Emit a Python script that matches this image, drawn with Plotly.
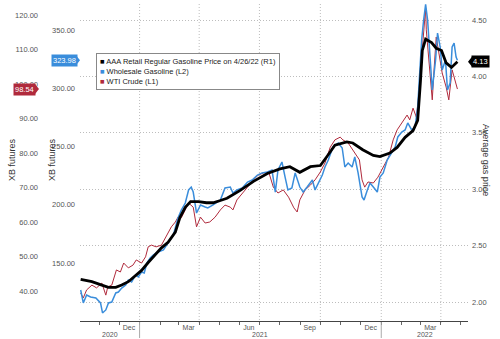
import plotly.graph_objects as go
import pandas as pd

# ---------------- data ----------------
series_names = ["AAA Retail Regular Gasoline Price on 4/26/22 (R1)",
                "Wholesale Gasoline (L2)", "WTI Crude (L1)"]

gas_dates = ["2020-10-04", "2020-10-21", "2020-11-05", "2020-11-15", "2020-11-26", "2020-12-05",
             "2020-12-15", "2020-12-26", "2021-01-04", "2021-01-14", "2021-01-25", "2021-02-03",
             "2021-02-13", "2021-02-24", "2021-03-03", "2021-03-11", "2021-03-19", "2021-03-31",
             "2021-04-12", "2021-04-22", "2021-05-03", "2021-05-13", "2021-06-02", "2021-06-22",
             "2021-07-13", "2021-08-01", "2021-08-16", "2021-08-31", "2021-09-16", "2021-10-01",
             "2021-10-11", "2021-10-23", "2021-11-10", "2021-11-19", "2021-12-04", "2021-12-20",
             "2021-12-30", "2022-01-14", "2022-01-25", "2022-02-06", "2022-02-18", "2022-02-25",
             "2022-03-01", "2022-03-04", "2022-03-09", "2022-03-18", "2022-03-25", "2022-04-02",
             "2022-04-09", "2022-04-17", "2022-04-26"]
gas_values = [2.20, 2.18, 2.15, 2.13, 2.13, 2.15,
              2.18, 2.24, 2.28, 2.35, 2.42, 2.48,
              2.53, 2.62, 2.75, 2.84, 2.89, 2.89,
              2.88, 2.88, 2.90, 2.92, 2.99, 3.07,
              3.14, 3.18, 3.20, 3.15, 3.20, 3.21,
              3.29, 3.39, 3.42, 3.41, 3.35, 3.30,
              3.29, 3.32, 3.37, 3.46, 3.52, 3.61,
              3.94, 4.23, 4.33, 4.30, 4.25, 4.23,
              4.12, 4.08, 4.13]

xb_dates = ["2020-10-04", "2020-10-08", "2020-10-13", "2020-10-19", "2020-10-27", "2020-11-03",
            "2020-11-06", "2020-11-11", "2020-11-15", "2020-11-20", "2020-11-26", "2020-11-30",
            "2020-12-05", "2020-12-11", "2020-12-15", "2020-12-20", "2020-12-26", "2020-12-30",
            "2021-01-04", "2021-01-08", "2021-01-12", "2021-01-17", "2021-01-22", "2021-01-29",
            "2021-02-06", "2021-02-13", "2021-02-21", "2021-02-28", "2021-03-05", "2021-03-11",
            "2021-03-16", "2021-03-20", "2021-03-23", "2021-03-28", "2021-04-03", "2021-04-10",
            "2021-04-14", "2021-04-22", "2021-05-03", "2021-05-10", "2021-05-18", "2021-05-22",
            "2021-05-28", "2021-06-05", "2021-06-13", "2021-06-20", "2021-06-28", "2021-07-05",
            "2021-07-13", "2021-07-20", "2021-07-25", "2021-07-29", "2021-08-04", "2021-08-09",
            "2021-08-13", "2021-08-19", "2021-08-24", "2021-08-31", "2021-09-05", "2021-09-11",
            "2021-09-19", "2021-09-23", "2021-09-28", "2021-10-04", "2021-10-08", "2021-10-13",
            "2021-10-20", "2021-10-28", "2021-11-03", "2021-11-07", "2021-11-12", "2021-11-18",
            "2021-11-22", "2021-11-27", "2021-12-03", "2021-12-06", "2021-12-11", "2021-12-15",
            "2021-12-20", "2021-12-26", "2021-12-30", "2022-01-04", "2022-01-10", "2022-01-17",
            "2022-01-22", "2022-01-26", "2022-02-01", "2022-02-06", "2022-02-10", "2022-02-16",
            "2022-02-21", "2022-02-25", "2022-02-28", "2022-03-03", "2022-03-06", "2022-03-09",
            "2022-03-12", "2022-03-16", "2022-03-19", "2022-03-24", "2022-03-27", "2022-03-31",
            "2022-04-03", "2022-04-08", "2022-04-11", "2022-04-15", "2022-04-18", "2022-04-21",
            "2022-04-24", "2022-04-26"]
xb_values = [126.8, 115.7, 122.5, 120.8, 120.0, 115.7,
             107.1, 109.7, 115.7, 116.5, 124.3, 125.1,
             128.5, 131.1, 135.4, 133.7, 139.7, 138.0,
             142.3, 141.4, 150.0, 154.3, 156.9, 159.5,
             161.2, 167.2, 174.0, 188.6, 195.5, 201.5,
             212.7, 215.2, 210.9, 192.9, 199.8, 198.1,
             197.2, 199.8, 204.1, 214.4, 215.2, 210.1,
             212.7, 214.4, 219.5, 221.2, 225.5, 227.3,
             228.1, 229.8, 210.9, 229.8, 236.7, 223.0,
             212.7, 214.4, 227.3, 215.2, 210.9, 215.2,
             221.2, 212.7, 218.7, 225.5, 232.4, 238.4,
             249.6, 253.0, 248.7, 232.4, 235.8, 232.4,
             241.0, 227.3, 206.7, 204.1, 212.7, 218.7,
             215.2, 210.9, 223.8, 227.3, 238.4, 244.4,
             249.6, 258.2, 262.4, 264.2, 270.2, 264.2,
             266.7, 283.9, 313.1, 341.4, 358.6, 372.0,
             358.6, 324.2, 298.5, 324.2, 347.4, 335.4,
             315.7, 324.2, 298.5, 304.5, 335.4, 338.8,
             326.8, 323.98]

wti_dates = ["2020-10-04", "2020-10-08", "2020-10-13", "2020-10-21", "2020-10-28", "2020-11-05",
             "2020-11-11", "2020-11-14", "2020-11-20", "2020-11-27", "2020-12-03", "2020-12-08",
             "2020-12-15", "2020-12-22", "2020-12-27", "2021-01-04", "2021-01-10", "2021-01-14",
             "2021-01-19", "2021-01-26", "2021-02-03", "2021-02-10", "2021-02-18", "2021-02-24",
             "2021-02-28", "2021-03-05", "2021-03-11", "2021-03-16", "2021-03-23", "2021-03-28",
             "2021-04-03", "2021-04-10", "2021-04-17", "2021-04-25", "2021-05-03", "2021-05-10",
             "2021-05-18", "2021-05-22", "2021-05-28", "2021-06-05", "2021-06-13", "2021-06-22",
             "2021-06-29", "2021-07-07", "2021-07-15", "2021-07-22", "2021-07-29", "2021-08-06",
             "2021-08-14", "2021-08-22", "2021-08-27", "2021-08-31", "2021-09-08", "2021-09-16",
             "2021-09-23", "2021-10-01", "2021-10-08", "2021-10-16", "2021-10-23", "2021-10-31",
             "2021-11-04", "2021-11-12", "2021-11-19", "2021-11-26", "2021-11-29", "2021-12-03",
             "2021-12-07", "2021-12-12", "2021-12-20", "2021-12-27", "2022-01-04", "2022-01-12",
             "2022-01-19", "2022-01-25", "2022-02-01", "2022-02-09", "2022-02-13", "2022-02-18",
             "2022-02-23", "2022-02-26", "2022-03-03", "2022-03-06", "2022-03-09", "2022-03-10",
             "2022-03-14", "2022-03-19", "2022-03-22", "2022-03-25", "2022-03-29", "2022-04-03",
             "2022-04-09", "2022-04-13", "2022-04-18", "2022-04-21", "2022-04-25", "2022-04-26"]
wti_values = [39.4, 38.0, 40.3, 41.7, 40.9, 42.3,
              38.8, 41.2, 41.7, 46.1, 45.5, 48.1,
              46.7, 47.5, 49.0, 48.1, 49.9, 52.8,
              53.3, 52.8, 53.3, 55.7, 58.6, 60.0,
              61.4, 61.2, 63.5, 65.5, 64.3, 58.6,
              61.4, 59.7, 60.0, 61.4, 63.5, 64.9,
              64.3, 63.5, 66.4, 68.4, 70.1, 72.2,
              73.6, 74.2, 74.5, 70.1, 68.4, 69.3,
              67.2, 64.1, 62.9, 66.4, 69.3, 70.7,
              72.2, 74.5, 77.1, 81.7, 83.8, 84.6,
              83.8, 82.9, 80.9, 78.8, 78.0, 72.2,
              70.1, 71.6, 71.3, 73.0, 75.9, 78.8,
              83.8, 86.7, 88.7, 91.0, 89.6, 93.0,
              90.4, 95.4, 107.8, 116.5, 122.0, 115.7,
              107.0, 95.4, 104.9, 113.6, 109.0, 103.2,
              99.1, 95.4, 104.1, 102.0, 99.1, 98.54]

month_tick_dates = ["2020-12-16", "2021-03-16", "2021-06-15", "2021-09-15", "2021-12-16", "2022-03-16"]
month_tick_labels = ["Dec", "Mar", "Jun", "Sep", "Dec", "Mar"]
year_labels = ["2020", "2021", "2022"]
year_breaks = ["2021-01-01", "2022-01-01"]
grid_dates = ["2021-01-01", "2021-04-01", "2021-07-01", "2021-10-01", "2022-01-01", "2022-04-01"]
wti_ticks = [40, 50, 60, 70, 80, 90, 100, 110, 120]
xb_ticks = [150, 200, 250, 300, 350]
gas_ticks = [2.0, 2.5, 3.0, 3.5, 4.0, 4.5]
axis_titles = ["XB futures", "XB futures", "Average gas price"]

# ---------------- layout constants ----------------
W, H = 500, 339
PL, PR, PT, PB = 80, 468, 3, 321
def px(x): return x / W
def py(y): return (H - y) / H

x_range = ["2020-10-03", "2022-05-12"]
wti_range = [31.30, 123.48]
xb_range = [100.21, 373.18]
gas_range = [1.8316, 4.651]

BLUE = "#3a8ddb"
RED = "#b02a3c"
BLACK = "#000000"
GRID = "#bdbdbd"
GRID_DASH = "1px,2px"
TXT = "#555555"
FONT = "Liberation Sans, Arial, sans-serif"

fig = go.Figure()
fig.add_trace(go.Scatter(x=wti_dates, y=wti_values, name=series_names[2], yaxis="y",
                         mode="lines", line=dict(color=RED, width=1)))
fig.add_trace(go.Scatter(x=xb_dates, y=xb_values, name=series_names[1], yaxis="y2",
                         mode="lines", line=dict(color=BLUE, width=1.5)))
fig.add_trace(go.Scatter(x=gas_dates, y=gas_values, name=series_names[0], yaxis="y3",
                         mode="lines", line=dict(color=BLACK, width=2.8)))

month_starts = [d.strftime("%Y-%m-%d") for d in pd.date_range("2020-11-01", "2022-05-01", freq="MS")]

tickfont = dict(family=FONT, size=7.5, color=TXT)
xtickfont = dict(family=FONT, size=7, color=TXT)
fig.update_layout(
    width=W, height=H, margin=dict(l=0, r=0, t=0, b=0),
    paper_bgcolor="white", plot_bgcolor="white", showlegend=False,
    font=dict(family=FONT, size=7.5, color=TXT),
    xaxis=dict(domain=[px(PL), px(PR)], type="date", range=x_range,
               tickmode="array", tickvals=month_tick_dates, ticktext=month_tick_labels,
               ticks="", showgrid=False, showline=True, linecolor="#444", linewidth=1,
               tickfont=xtickfont, automargin=False, zeroline=False,
               minor=dict(tickmode="array", tickvals=month_starts, ticks="outside",
                          ticklen=3, tickcolor="#666", showgrid=False)),
    yaxis=dict(domain=[py(PB), py(PT)], range=wti_range, anchor="free", position=px(38),
               side="left", tickmode="array", tickvals=wti_ticks, tickformat=".2f",
               showgrid=False, zeroline=False, showline=False, ticks="",
               tickfont=tickfont, automargin=False),
    yaxis2=dict(domain=[py(PB), py(PT)], range=xb_range, overlaying="y", anchor="x",
                side="left", tickmode="array", tickvals=xb_ticks, tickformat=".2f",
                showgrid=False, zeroline=False, showline=False, ticks="",
                ticklabelstandoff=4, tickfont=tickfont, automargin=False),
    yaxis3=dict(domain=[py(PB), py(PT)], range=gas_range, overlaying="y", anchor="x",
                side="right", tickmode="array", tickvals=gas_ticks, tickformat=".2f",
                showgrid=True, gridcolor=GRID, griddash=GRID_DASH, gridwidth=1,
                zeroline=False, showline=False, ticks="", ticklabelstandoff=3,
                tickfont=tickfont, automargin=False),
)

# vertical dotted gridlines (quarter starts)
for d in grid_dates:
    fig.add_shape(type="line", xref="x", yref="paper", x0=d, x1=d, y0=py(PB + 2), y1=py(PT),
                  line=dict(color=GRID, width=1, dash=GRID_DASH), layer="below")

# year separators and labels
for d in year_breaks:
    fig.add_shape(type="line", xref="x", yref="paper", x0=d, x1=d, y0=py(322), y1=py(338),
                  line=dict(color="#aaa", width=1))
bounds = [pd.Timestamp(x_range[0])] + [pd.Timestamp(b) for b in year_breaks] + [pd.Timestamp(x_range[1])]
for i, lab in enumerate(year_labels):
    mid = bounds[i] + (bounds[i + 1] - bounds[i]) / 2
    fig.add_annotation(x=mid.strftime("%Y-%m-%d %H:%M"), xref="x", y=py(334.5), yref="paper",
                       text=lab, showarrow=False, font=xtickfont, yanchor="middle",
                       borderpad=0)

# axis titles
title_font = dict(family=FONT, size=9, color="#333")
fig.add_annotation(x=px(5), y=py(160), xref="paper", yref="paper", text=axis_titles[0],
                   textangle=-90, showarrow=False, font=title_font)
fig.add_annotation(x=px(45), y=py(160), xref="paper", yref="paper", text=axis_titles[1],
                   textangle=-90, showarrow=False, font=title_font)
fig.add_annotation(x=px(493), y=py(160), xref="paper", yref="paper", text=axis_titles[2],
                   textangle=90, showarrow=False, font=title_font)

# last-value badges
badge_font = dict(family=FONT, size=7.5, color="white")
badges = [
    (xb_values[-1], "y2", BLUE, 64.5, 76, 1),
    (wti_values[-1], "y", RED, 24, 35, 1),
    (gas_values[-1], "y3", BLACK, 480, 472, -1),
]
for val, yref, col, cx, edge, direction in badges:
    fig.add_annotation(x=px(cx), xref="paper", y=val, yref=yref, text=f"{val:.2f}",
                       showarrow=False, bgcolor=col, font=badge_font, borderpad=1,
                       xanchor="center", yanchor="middle")
    path = "M0,-5 L%d,0 L0,5 Z" % (4 * direction)
    fig.add_shape(type="path", xref="paper", yref=yref, xsizemode="pixel", ysizemode="pixel",
                  xanchor=px(edge), yanchor=val, path=path, fillcolor=col, line=dict(width=0))

# legend box (compact, built as text)
legend_colors = [BLACK, BLUE, RED]
legend_text = "<br>".join(
    f"<span style='color:{c}'>■</span> {n}" for c, n in zip(legend_colors, series_names))
fig.add_annotation(x=px(96), y=py(53), xref="paper", yref="paper", xanchor="left", yanchor="top",
                   text=legend_text, align="left", showarrow=False, bgcolor="white",
                   bordercolor="#888", borderwidth=1, borderpad=3,
                   font=dict(family=FONT, size=7.5, color="#222"))

fig.write_html("out.html")
